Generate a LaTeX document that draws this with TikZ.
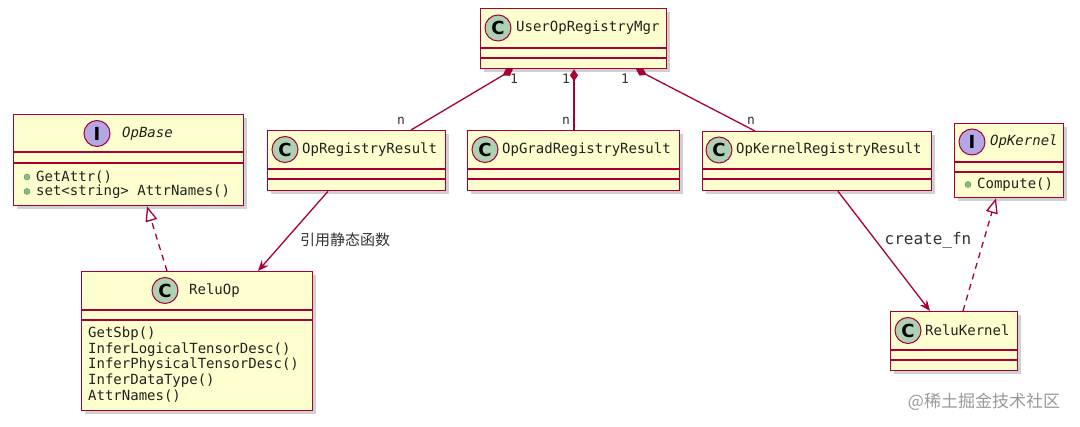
\documentclass[tikz,border=0pt]{standalone}
\usepackage{fontspec}
\setmainfont{DejaVu Sans}
\setmonofont{DejaVu Sans Mono}
\newfontfamily\cjk{Noto Sans CJK SC}
\newfontfamily\circfont{DejaVu Sans}
\usetikzlibrary{arrows.meta,shadows,calc}
\definecolor{umlred}{HTML}{A80036}
\definecolor{umlfill}{HTML}{FEFECE}
\definecolor{cgreen}{HTML}{ADD1B2}
\definecolor{ipurple}{HTML}{B4A7E5}
\definecolor{mgreen}{HTML}{84BE84}
\definecolor{txt}{HTML}{222222}
\definecolor{lbl}{HTML}{333333}
\begin{document}
\begin{tikzpicture}[x=1pt,y=-1pt,
  box/.style={draw=umlred, line width=1.3pt, fill=umlfill, rectangle, anchor=north west, inner sep=0pt,
    drop shadow={shadow xshift=3pt, shadow yshift=-3pt, opacity=0.3, fill=black!60}},
  sepline/.style={draw=umlred, line width=1.3pt},
  ccirc/.style={circle, draw=umlred, line width=1pt, fill=cgreen, minimum size=26pt, inner sep=0pt,
    font=\circfont\bfseries\fontsize{18}{18}\selectfont},
  icirc/.style={ccirc, fill=ipurple},
  title/.style={anchor=west, inner sep=0pt, text=txt, font=\ttfamily\fontsize{14}{16}\selectfont},
  ititle/.style={title, font=\ttfamily\itshape\fontsize{14}{16}\selectfont},
  meth/.style={anchor=west, inner sep=0pt, text=txt, font=\ttfamily\fontsize{14}{16}\selectfont},
  bullet/.style={circle, fill=mgreen, draw=mgreen!70!black, line width=0.4pt, minimum size=6pt, inner sep=0pt},
  link/.style={draw=umlred, line width=1.3pt},
  comp/.style={link, {Diamond[length=12pt, width=8pt, fill=umlred]}-},
  dep/.style={link, -{Stealth[length=11pt, width=9pt, inset=4pt]}},
  real/.style={link, dash pattern=on 6pt off 5pt, -{Triangle[open, length=15pt, width=12pt, fill=white]}},
  mult/.style={inner sep=0pt, text=lbl, font=\ttfamily\fontsize{13}{13}\selectfont},
  elabel/.style={inner sep=0pt, text=lbl}
]
\fill[white] (0,0) rectangle (1080,427);
\useasboundingbox (0,0) rectangle (1080,427);

% UserOpRegistryMgr
\node[box, minimum width=186pt, minimum height=60pt] (mgr) at (480,8) {};
\draw[sepline] ([yshift=-40pt]mgr.north west) -- ([yshift=-40pt]mgr.north east);
\draw[sepline] ([yshift=-50pt]mgr.north west) -- ([yshift=-50pt]mgr.north east);
\node[ccirc] (mgrc) at (498,28) {C};
\node[title] (mgrt) at (516,28) {UserOpRegistryMgr};

% OpRegistryResult
\node[box, minimum width=178pt, minimum height=60pt] (orr) at (267,130) {};
\draw[sepline] ([yshift=-39pt]orr.north west) -- ([yshift=-39pt]orr.north east);
\draw[sepline] ([yshift=-49pt]orr.north west) -- ([yshift=-49pt]orr.north east);
\node[ccirc] (orrc) at (285,149.5) {C};
\node[title] (orrt) at (302,149.5) {OpRegistryResult};

% OpGradRegistryResult
\node[box, minimum width=212pt, minimum height=60pt] (ogr) at (467,130) {};
\draw[sepline] ([yshift=-39pt]ogr.north west) -- ([yshift=-39pt]ogr.north east);
\draw[sepline] ([yshift=-49pt]ogr.north west) -- ([yshift=-49pt]ogr.north east);
\node[ccirc] (ogrc) at (485,149.5) {C};
\node[title] (ogrt) at (502,149.5) {OpGradRegistryResult};

% OpKernelRegistryResult
\node[box, minimum width=229pt, minimum height=59pt] (okr) at (702,131) {};
\draw[sepline] ([yshift=-38pt]okr.north west) -- ([yshift=-38pt]okr.north east);
\draw[sepline] ([yshift=-48pt]okr.north west) -- ([yshift=-48pt]okr.north east);
\node[ccirc] (okrc) at (719,150) {C};
\node[title] (okrt) at (736,150) {OpKernelRegistryResult};

% OpKernel
\node[box, minimum width=109pt, minimum height=74pt] (opk) at (954,123) {};
\draw[sepline] ([yshift=-39pt]opk.north west) -- ([yshift=-39pt]opk.north east);
\draw[sepline] ([yshift=-49pt]opk.north west) -- ([yshift=-49pt]opk.north east);
\node[icirc] (opkc) at (972,142) {I};
\node[ititle] (opkt) at (990,142) {OpKernel};
\node[bullet] (opkb1) at (968,184.5) {};
\node[meth] (opkm1) at (977,184.5) {Compute()};

% OpBase
\node[box, minimum width=230pt, minimum height=91pt] (opb) at (13,114) {};
\draw[sepline] ([yshift=-38pt]opb.north west) -- ([yshift=-38pt]opb.north east);
\draw[sepline] ([yshift=-49pt]opb.north west) -- ([yshift=-49pt]opb.north east);
\node[icirc] (opbc) at (97,133.5) {I};
\node[ititle] (opbt) at (122,133.5) {OpBase};
\node[bullet] (opbb1) at (27,177) {};
\node[meth] (opbm1) at (36,177) {GetAttr()};
\node[bullet] (opbb2) at (27,191.5) {};
\node[meth] (opbm2) at (36,191.5) {set<string> AttrNames()};

% ReluOp
\node[box, minimum width=231pt, minimum height=139pt] (relu) at (81,271) {};
\draw[sepline] ([yshift=-39pt]relu.north west) -- ([yshift=-39pt]relu.north east);
\draw[sepline] ([yshift=-49pt]relu.north west) -- ([yshift=-49pt]relu.north east);
\node[ccirc] (reluc) at (165,290.5) {C};
\node[title] (relut) at (189,290.5) {ReluOp};
\node[meth, align=left, font=\ttfamily\fontsize{14}{15.8}\selectfont] (relum) at (88,364.5)
  {GetSbp()\\InferLogicalTensorDesc()\\InferPhysicalTensorDesc()\\InferDataType()\\AttrNames()};

% ReluKernel
\node[box, minimum width=127pt, minimum height=59pt] (rk) at (890,311) {};
\draw[sepline] ([yshift=-39pt]rk.north west) -- ([yshift=-39pt]rk.north east);
\draw[sepline] ([yshift=-49pt]rk.north west) -- ([yshift=-49pt]rk.north east);
\node[ccirc] (rkc) at (908,330.5) {C};
\node[title] (rkt) at (925,330.5) {ReluKernel};

% compositions
\draw[comp] ([xshift=33pt]mgr.south west) -- ([xshift=144pt]orr.north west);
\draw[comp] ([xshift=94pt]mgr.south west) -- ([xshift=107pt]ogr.north west);
\draw[comp] ([xshift=156pt]mgr.south west) -- ([xshift=53pt]okr.north west);
\node[mult] (m1a) at (514,79) {1};
\node[mult] (m1b) at (401,121) {n};
\node[mult] (m2a) at (566,79) {1};
\node[mult] (m2b) at (566,121) {n};
\node[mult] (m3a) at (625,79) {1};
\node[mult] (m3b) at (751,121) {n};

% dependencies
\draw[dep] ([xshift=61pt]orr.south west) -- ([xshift=177pt]relu.north west);
\node[elabel, font=\cjk\fontsize{15}{15}\selectfont] (l1) at (345,240) {引用静态函数};
\draw[dep] ([xshift=136pt]okr.south west) -- ([xshift=40pt]rk.north west);
\node[elabel, font=\ttfamily\fontsize{16}{16}\selectfont] (l2) at (928,240) {create\_fn};

% realizations
\draw[real] ([xshift=86pt]relu.north west) -- ([xshift=134pt]opb.south west);
\draw[real] ([xshift=73pt]rk.north west) -- ([xshift=42pt]opk.south west);

% watermark
\node[inner sep=0pt, text=black!40, font=\cjk\fontsize{17}{17}\selectfont] (wm) at (984,402) {@稀土掘金技术社区};
\end{tikzpicture}
\end{document}
